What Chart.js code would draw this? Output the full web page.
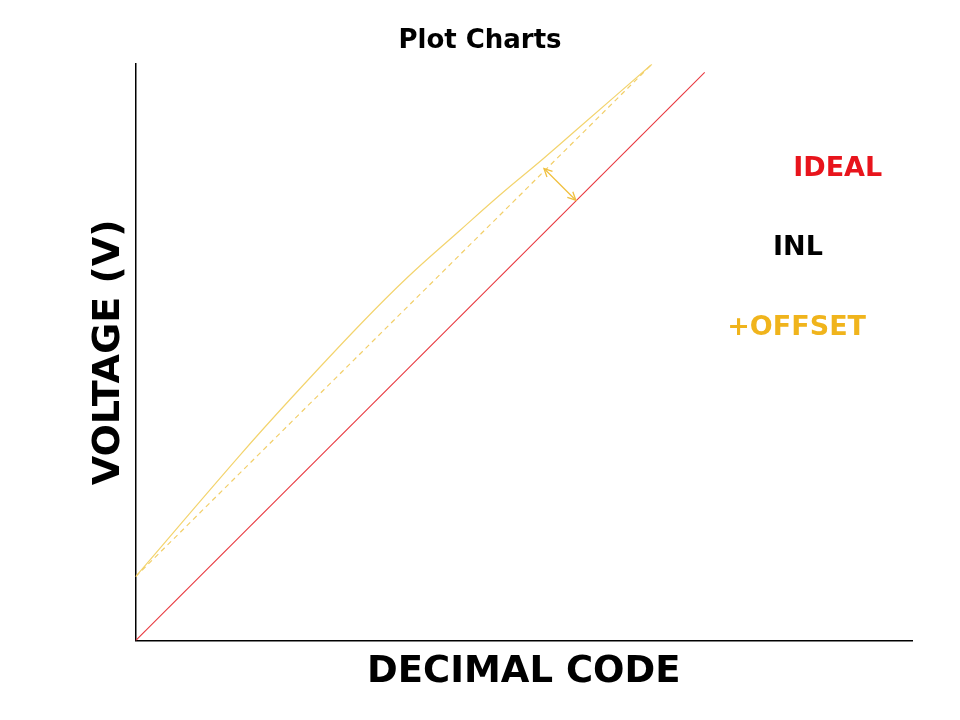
<!DOCTYPE html>
<html>
<head>
<meta charset="utf-8">
<title>Plot Charts</title>
<script src="https://cdn.jsdelivr.net/npm/chart.js@4/dist/chart.umd.min.js"></script>
<style>
  html, body { margin: 0; padding: 0; background: #fff; }
  #wrap { width: 960px; height: 720px; }
</style>
</head>
<body>
<div id="wrap"><canvas id="plotChart" width="960" height="720"></canvas></div>
<script>
// decimal code (x) / voltage (y), both in % of full scale
const idealX = [0, 73.3];
const idealY = [0, 98.6];

const offsetX = [0, 66.5];
const offsetY = [11.1, 100];

const inlX = [0, 13.4, 20.0, 28.9, 35.0, 41.8, 47.0, 52.5, 57.2, 66.5];
const inlY = [11.1, 32.1, 42.0, 54.8, 63.0, 71.2, 77.4, 83.6, 89.1, 100];

// double arrow showing the offset gap
const gapX = [52.6, 56.7];
const gapY = [81.9, 76.4];

// side labels: text, x, y (data units)
const labelText = ['IDEAL', 'INL', '+OFFSET'];
const labelX = [84.7, 82.1, 76.2];
const labelY = [81.9, 68.1, 54.3];
const labelColor = ['#e8141c', '#000000', '#f0b41c'];

const FONT = '"DejaVu Sans", Verdana, sans-serif';

const toPoints = (xs, ys) => xs.map((x, i) => ({ x: x, y: ys[i] }));

// draws arrowheads on the gap dataset and the side labels
const annotations = {
    id: 'annotations',
    afterDatasetsDraw(chart) {
        const ctx = chart.ctx;
        const meta = chart.getDatasetMeta(3);
        const p0 = meta.data[0];
        const p1 = meta.data[1];

        const head = (tip, from) => {
            const ang = Math.atan2(tip.y - from.y, tip.x - from.x);
            const len = 9;
            ctx.beginPath();
            ctx.moveTo(tip.x - len * Math.cos(ang - 0.45), tip.y - len * Math.sin(ang - 0.45));
            ctx.lineTo(tip.x, tip.y);
            ctx.lineTo(tip.x - len * Math.cos(ang + 0.45), tip.y - len * Math.sin(ang + 0.45));
            ctx.stroke();
        };

        ctx.save();
        ctx.strokeStyle = '#f0c040';
        ctx.lineWidth = 1.3;
        head(p0, p1);
        head(p1, p0);
        ctx.restore();

        const xs = chart.scales.x;
        const ys = chart.scales.y;
        ctx.save();
        ctx.font = 'bold 27px ' + FONT;
        ctx.textAlign = 'left';
        ctx.textBaseline = 'middle';
        labelText.forEach((t, i) => {
            ctx.fillStyle = labelColor[i];
            ctx.fillText(t, xs.getPixelForValue(labelX[i]), ys.getPixelForValue(labelY[i]));
        });
        ctx.restore();
    }
};

const ctx = document.getElementById('plotChart').getContext('2d');
new Chart(ctx, {
    type: 'line',
    data: {
        datasets: [
            {
                label: 'IDEAL',
                data: toPoints(idealX, idealY),
                borderColor: '#e8383f',
                borderWidth: 1.1,
                pointRadius: 0,
                tension: 0
            },
            {
                label: '+OFFSET',
                data: toPoints(offsetX, offsetY),
                borderColor: '#f2cf6a',
                borderWidth: 1.2,
                borderDash: [5, 4],
                pointRadius: 0,
                tension: 0
            },
            {
                label: 'INL',
                data: toPoints(inlX, inlY),
                borderColor: '#f3d46e',
                borderWidth: 1.2,
                pointRadius: 0,
                tension: 0.4
            },
            {
                label: 'gap',
                data: toPoints(gapX, gapY),
                borderColor: '#f0c040',
                borderWidth: 1.3,
                pointRadius: 0,
                tension: 0
            }
        ]
    },
    options: {
        responsive: false,
        animation: false,
        layout: { padding: 0, autoPadding: false },
        plugins: {
            legend: { display: false },
            tooltip: { enabled: false },
            title: {
                display: true,
                text: 'Plot Charts',
                color: '#000',
                font: { family: FONT, size: 26, weight: 'bold' },
                padding: { top: 26, bottom: 7 }
            }
        },
        scales: {
            x: {
                type: 'linear',
                min: 0,
                max: 100,
                grid: { display: false, drawTicks: false },
                border: { display: true, color: '#000', width: 1.5 },
                ticks: { display: false },
                title: {
                    display: true,
                    text: 'DECIMAL CODE',
                    color: '#000',
                    font: { family: FONT, size: 37, weight: 'bold' },
                    padding: { top: 10, bottom: 25 }
                }
            },
            y: {
                type: 'linear',
                min: 0,
                max: 100,
                grid: { display: false, drawTicks: false },
                border: { display: true, color: '#000', width: 1.5 },
                ticks: { display: false },
                title: {
                    display: true,
                    text: 'VOLTAGE (V)',
                    color: '#000',
                    font: { family: FONT, size: 38, weight: 'bold' },
                    padding: { top: 86, bottom: 4 }
                }
            },
            // empty strip on the right so the plot ends short of the edge
            right: {
                type: 'linear',
                position: 'right',
                grid: { display: false, drawTicks: false },
                border: { display: false },
                ticks: { display: false },
                afterFit: (scale) => { scale.width = 48; }
            }
        }
    },
    plugins: [annotations]
});
</script>
</body>
</html>
